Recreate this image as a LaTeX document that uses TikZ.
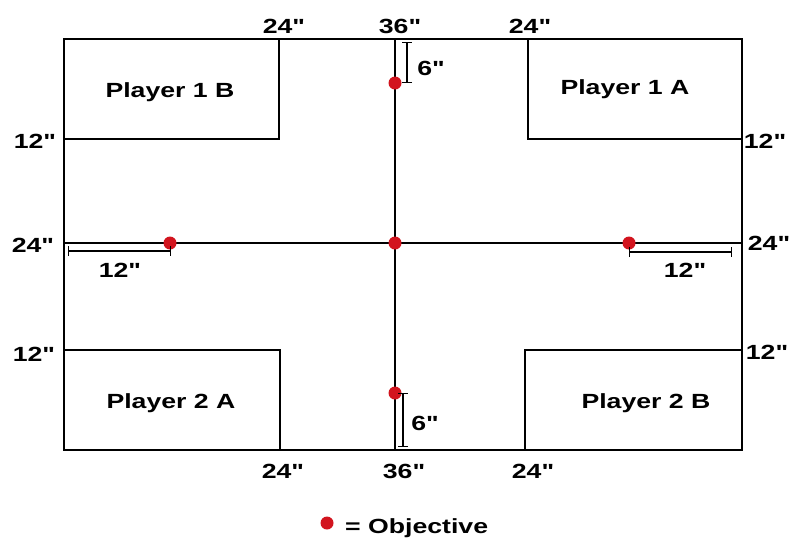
\documentclass[tikz,border=0pt]{standalone}
\usepackage{fontspec}
\setmainfont{Liberation Sans}[FakeStretch=1.3, Ligatures=TeXOff]
\usetikzlibrary{arrows.meta}
\definecolor{objred}{RGB}{210,20,30}
\tikzset{
  edge/.style={line width=1.8pt},
  dimbar/.style={line width=1.3pt, {Bar[width=10pt]}-{Bar[width=10pt]}},
  objective/.style={circle, fill=objred, inner sep=0pt, minimum size=13pt},
  lbl/.style={font=\bfseries\fontsize{20.5}{24}\selectfont, inner sep=0pt, anchor=base},
}
\begin{document}
\begin{tikzpicture}[x=1pt,y=-1pt]
  \useasboundingbox (0,0) rectangle (792,539);
  % table corners
  \coordinate (nw) at (64,39);
  \coordinate (se) at (742,450);
  % centre line ends
  \coordinate (top) at (395,39);
  \coordinate (bot) at (395,450);
  \coordinate (west) at (64,243);
  \coordinate (east) at (742,243);
  % table
  \draw[edge] (nw) rectangle (se);
  % deployment zones
  \draw[edge] (64,39) rectangle (279,139);
  \draw[edge] (528,39) rectangle (742,139);
  \draw[edge] (64,350) rectangle (280,450);
  \draw[edge] (525,350) rectangle (742,450);
  % centre lines
  \draw[edge] (top) -- (bot);
  \draw[edge] (west) -- (east);
  % objectives
  \node[objective] (objN) at (395,83) {};
  \node[objective] (objC) at (395,243) {};
  \node[objective] (objW) at (170,243) {};
  \node[objective] (objE) at (629,243) {};
  \node[objective] (objS) at (395,393) {};
  % measure bars
  \coordinate (barNa) at (407,42);
  \coordinate (barNb) at (407,83);
  \draw[dimbar] (barNa) -- (barNb);
  \coordinate (barSa) at (403,393);
  \coordinate (barSb) at (403,447);
  \draw[dimbar] (barSa) -- (barSb);
  \coordinate (barWa) at (68,251);
  \coordinate (barWb) at (171,251);
  \draw[dimbar] (barWa) -- (barWb);
  \coordinate (barEa) at (629,252);
  \coordinate (barEb) at (732,252);
  \draw[dimbar] (barEa) -- (barEb);
  % zone labels
  \node[lbl] (p1b) at (170,97) {Player 1 B};
  \node[lbl] (p1a) at (625,94) {Player 1 A};
  \node[lbl] (p2a) at (171,408) {Player 2 A};
  \node[lbl] (p2b) at (646,408) {Player 2 B};
  % top and bottom measures
  \node[lbl] (t24a) at (284,33) {24"};
  \node[lbl] (t36) at (400,33) {36"};
  \node[lbl] (t24b) at (530,33) {24"};
  \node[lbl] (b24a) at (283,478) {24"};
  \node[lbl] (b36) at (404,478) {36"};
  \node[lbl] (b24b) at (533,478) {24"};
  % side measures
  \node[lbl] (l12a) at (35,148) {12"};
  \node[lbl] (l24) at (33,252) {24"};
  \node[lbl] (l12b) at (34,361) {12"};
  \node[lbl] (r12a) at (765,148) {12"};
  \node[lbl] (r24) at (769,250) {24"};
  \node[lbl] (r12b) at (767,359) {12"};
  % bar labels
  \node[lbl] (n6) at (431,75) {6"};
  \node[lbl] (s6) at (425,430) {6"};
  \node[lbl] (w12) at (120,277) {12"};
  \node[lbl] (e12) at (685,277) {12"};
  % legend
  \node[objective] (key) at (327,523) {};
  \node[lbl, anchor=base west] (keytext) at (345,533) {= Objective};
\end{tikzpicture}
\end{document}
